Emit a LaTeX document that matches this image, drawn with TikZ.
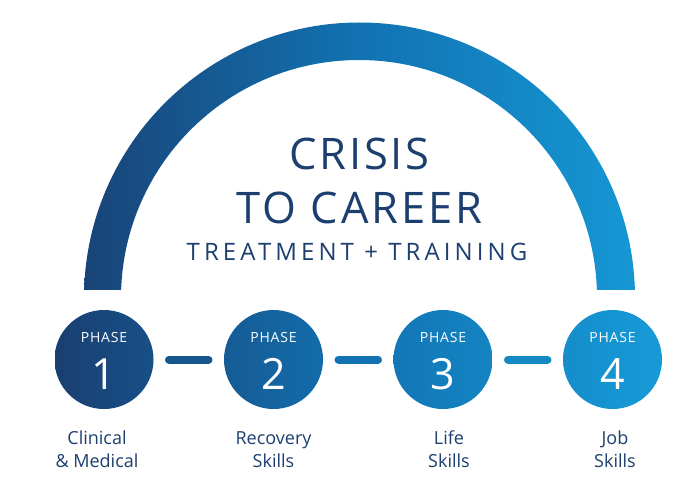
\documentclass[tikz,border=0pt]{standalone}
\usepackage{fontspec}
\setmainfont{Open Sans}
\newfontfamily\titlefont[LetterSpace=6.5]{Open Sans}
\newfontfamily\subfont[LetterSpace=17]{Open Sans}
\newfontfamily\phasefont[LetterSpace=6]{Open Sans}
\definecolor{navy}{HTML}{1C3F6F}
\definecolor{gA}{HTML}{1A3F71}
\definecolor{gB}{HTML}{1272B2}
\definecolor{gC}{HTML}{169BD7}
\tikzset{
  grad/.style={left color=gA, right color=gC, middle color=gB},
  phase/.style={circle, minimum size=99pt, inner sep=0pt, outer sep=0pt,
    path picture={\shade[grad] (gl) rectangle (gr);}},
  bar/.style={line width=8pt, line cap=round, shorten <=15.5pt, shorten >=15.5pt},
  phasetxt/.style={text=white, anchor=base, inner sep=0pt, font=\phasefont\fontsize{14}{16}\selectfont},
  numtxt/.style={text=white, anchor=base, inner sep=0pt, font=\fontsize{43}{46}\selectfont},
  steplabel/.style={text=navy, anchor=base, inner sep=0pt, align=center, font=\fontsize{18}{23.4}\selectfont},
  titletxt/.style={text=navy, anchor=base, inner sep=0pt, font=\titlefont\fontsize{43.5}{46}\selectfont},
  subtxt/.style={text=navy, anchor=base, inner sep=0pt, font=\subfont\fontsize{24}{26}\selectfont}
}
\begin{document}
\begin{tikzpicture}[x=1pt,y=-1pt]
\useasboundingbox (0,0) rectangle (700,500);
\coordinate (gl) at (55,0);
\coordinate (gr) at (662,500);
% arc
\begin{scope}
  \clip (0,0) rectangle (700,289);
  \clip (84,298) arc[start angle=180,end angle=360,radius=275.5] -- (597,298)
        arc[start angle=0,end angle=-180,radius=238] -- cycle;
  \shade[grad] (gl) rectangle (gr);
\end{scope}
% title
\node[titletxt] (t1) at (359.5,169) {CRISIS};
\node[titletxt] (t2) at (359.5,223) {TO CAREER};
\node[subtxt] (t3) at (357,260) {TREATMENT + TRAINING};
% phases
\node[phase] (p1) at (104,359.5) {};
\node[phase] (p2) at (273.5,359.5) {};
\node[phase] (p3) at (443,359.5) {};
\node[phase] (p4) at (612.5,359.5) {};
\draw[bar, draw=gA!56!gB] (p1) -- (p2);
\draw[bar, draw=gB] (p2) -- (p3);
\draw[bar, draw=gC!55!gB] (p3) -- (p4);
\foreach \i/\x in {1/104,2/273.5,3/443,4/612.5}{
  \node[phasetxt] (ph\i) at (\x,342) {PHASE};
  \node[numtxt] (n\i) at (\x,389) {\i};
}
% labels
\node[steplabel] (l1) at (97,467.7) {Clinical\\\& Medical};
\node[steplabel] (l2) at (273.5,467.7) {Recovery\\Skills};
\node[steplabel] (l3) at (449,467.7) {Life\\Skills};
\node[steplabel] (l4) at (615,467.7) {Job\\Skills};
\end{tikzpicture}
\end{document}
